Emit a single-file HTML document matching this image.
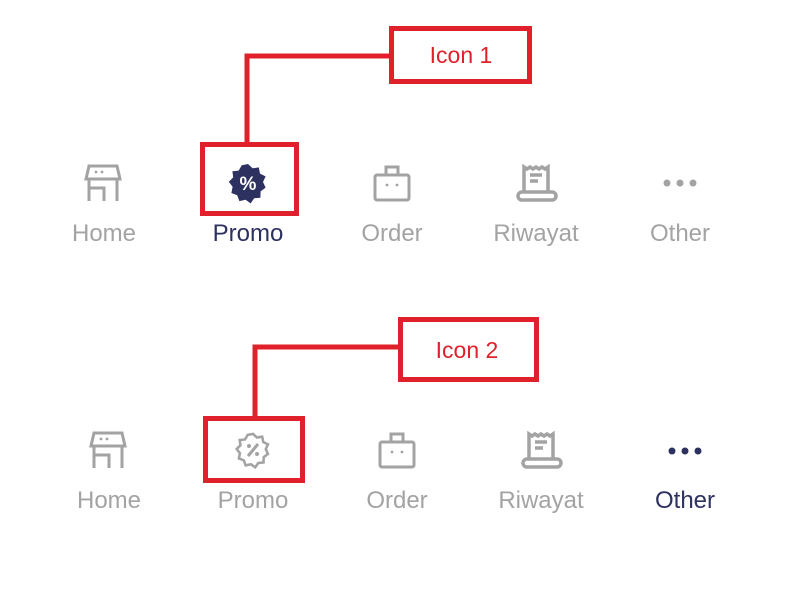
<!DOCTYPE html>
<html><head><style>
body{margin:0;background:#fff;}
svg text{font-family:"Liberation Sans",sans-serif;}
</style></head><body>
<svg width="800" height="600" viewBox="0 0 800 600" xmlns="http://www.w3.org/2000/svg">
<defs>
<g id="home" fill="none" stroke="#a3a3a3" stroke-width="3">
  <path d="M-17,-4 L-14,-17 L14,-17 L17,-4 Z"/>
  <path d="M-14,-4 V18 M14,-4 V18 M-14,5 H1 V18"/>
  <circle cx="-7" cy="-11" r="1.4" fill="#a3a3a3" stroke="none"/>
  <circle cx="-1" cy="-11" r="1.4" fill="#a3a3a3" stroke="none"/>
</g>
<g id="bag" fill="none" stroke="#a3a3a3" stroke-width="3">
  <rect x="-17" y="-8" width="34" height="25" rx="2"/>
  <path d="M-6,-8 V-16 H6 V-8"/>
  <circle cx="-5" cy="2" r="1.4" fill="#a3a3a3" stroke="none"/>
  <circle cx="5" cy="2" r="1.4" fill="#a3a3a3" stroke="none"/>
</g>
<g id="receipt" fill="none" stroke="#a3a3a3" stroke-width="3.5">
  <path d="M-12,8 V-16 L-9,-14 L-6,-16 L-3,-14 L0,-16 L3,-14 L6,-16 L9,-14 L12,-16 V8"/>
  <path d="M-6,-8 H6 M-6,-2 H2"/>
  <path d="M-14,9 H16 A4,4 0 0 1 16,17 H-14 A4,4 0 0 1 -14,9 Z"/>
</g>
<g id="dots" fill="#a3a3a3">
  <circle cx="-13" cy="0" r="3.5"/><circle cx="0" cy="0" r="3.5"/><circle cx="13" cy="0" r="3.5"/>
</g>
<path id="star" d="M0,-19 L4.6,-14.7 L10.8,-15.6 L12,-9.4 L17.6,-6.6 L15,-1 L17.6,4.6 L12.6,8.4 L12.4,14.7 L6.2,15.3 L2.6,20.4 L-2.4,16.8 L-8.6,18.1 L-10.8,12.2 L-16.6,10 L-15.4,3.8 L-19.2,-1.2 L-14.8,-5.6 L-15.6,-11.8 L-9.4,-12.4 L-6.2,-17.8 Z"/>
</defs>

<!-- Top row -->
<use href="#home" x="103" y="183"/>
<g transform="translate(248,183)">
  <use href="#star" fill="#2d3160"/>
  <text x="0" y="7" font-size="19" font-weight="bold" fill="#fff" text-anchor="middle">%</text>
</g>
<use href="#bag" x="392" y="183"/>
<use href="#receipt" x="536" y="183"/>
<use href="#dots" x="680" y="183"/>
<g font-size="24" text-anchor="middle" fill="#a3a3a3">
  <text x="104" y="241">Home</text>
  <text x="248" y="241" fill="#2d3160">Promo</text>
  <text x="392" y="241">Order</text>
  <text x="536" y="241">Riwayat</text>
  <text x="680" y="241">Other</text>
</g>

<g fill="none" stroke="#e0202a" stroke-width="5">
  <path d="M247,144 V56 H391"/>
  <rect x="391.5" y="28.5" width="138" height="53"/>
  <rect x="202.5" y="144.5" width="94" height="69"/>
</g>
<text x="461" y="63" font-size="23" fill="#e0202a" text-anchor="middle">Icon 1</text>

<!-- Bottom row -->
<use href="#home" x="108" y="450"/>
<g transform="translate(253,450)">
  <use href="#star" fill="none" stroke="#a3a3a3" stroke-width="3" transform="scale(0.85)"/>
  <path d="M5,-6 L-5,6" stroke="#a3a3a3" stroke-width="3"/>
  <circle cx="-4" cy="-4" r="2" fill="#a3a3a3"/>
  <circle cx="4" cy="4" r="2" fill="#a3a3a3"/>
</g>
<use href="#bag" x="397" y="450"/>
<use href="#receipt" x="541" y="450"/>
<g fill="#2d3160">
  <circle cx="672" cy="451" r="3.5"/><circle cx="685" cy="451" r="3.5"/><circle cx="698" cy="451" r="3.5"/>
</g>
<g font-size="24" text-anchor="middle" fill="#a3a3a3">
  <text x="109" y="508">Home</text>
  <text x="253" y="508">Promo</text>
  <text x="397" y="508">Order</text>
  <text x="541" y="508">Riwayat</text>
  <text x="685" y="508" fill="#2d3160">Other</text>
</g>

<g fill="none" stroke="#e0202a" stroke-width="5">
  <path d="M255,416 V347 H399"/>
  <rect x="400.5" y="319.5" width="136" height="60"/>
  <rect x="205.5" y="418.5" width="97" height="62"/>
</g>
<text x="467" y="358" font-size="23" fill="#e0202a" text-anchor="middle">Icon 2</text>
</svg>
</body></html>
